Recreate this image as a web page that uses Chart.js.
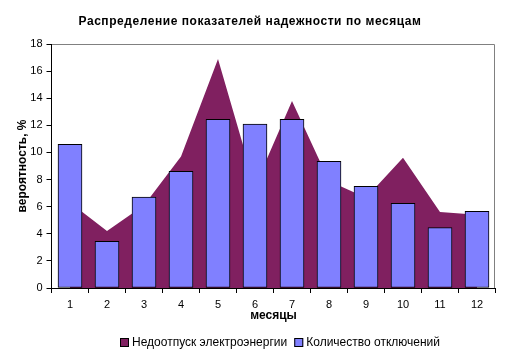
<!DOCTYPE html>
<html>
<head>
<meta charset="utf-8">
<script src="https://cdn.jsdelivr.net/npm/chart.js@4/dist/chart.umd.min.js"></script>
<style>
  body { margin: 0; background: #fff; }
  #wrap { width: 513px; height: 359px; }
</style>
</head>
<body>
<div id="wrap"><canvas id="chart" width="513" height="359"></canvas></div>
<script>
// data
const months = ["1", "2", "3", "4", "5", "6", "7", "8", "9", "10", "11", "12"];
const undersupply = [6.3, 4.2, 6.1, 9.7, 16.9, 7.5, 13.8, 7.9, 6.65, 9.6, 5.6, 5.4];
const outages = [10.6, 3.45, 6.7, 8.6, 12.45, 12.1, 12.45, 9.35, 7.5, 6.25, 4.45, 5.65];
const yMin = 0, yMax = 18, yStep = 2;

const chartTitle = "Распределение показателей надежности по месяцам";
const fontFamily = "'Liberation Sans', Arial, sans-serif";

// title, legend and the grey frame of the plot area
const decorPlugin = {
    id: "decor",
    beforeDatasetsDraw(chart) {
        const a = chart.chartArea;
        const ctx = chart.ctx;
        ctx.save();
        ctx.strokeStyle = "#808080";
        ctx.lineWidth = 1;
        ctx.beginPath();
        ctx.moveTo(Math.round(a.left), 44.5);
        ctx.lineTo(494.5, 44.5);
        ctx.lineTo(494.5, Math.round(a.bottom));
        ctx.stroke();
        ctx.restore();
    },
    afterDraw(chart) {
        const ctx = chart.ctx;
        ctx.save();
        ctx.fillStyle = "#000";
        ctx.font = "bold 12px " + fontFamily;
        ctx.letterSpacing = "0.55px";
        ctx.textAlign = "center";
        ctx.textBaseline = "middle";
        ctx.fillText(chartTitle, 250, 22);
        ctx.letterSpacing = "0px";

        // legend
        ctx.font = "12px " + fontFamily;
        ctx.textAlign = "left";
        const items = chart.data.datasets.map(ds => ({ text: ds.label, color: ds.backgroundColor }));
        const box = 9, gapText = 3, gapItem = 7;
        let total = 0;
        items.forEach((it, i) => {
            it.w = ctx.measureText(it.text).width;
            total += box + gapText + it.w + (i < items.length - 1 ? gapItem : 0);
        });
        let x = Math.round(280.5 - total / 2);
        const y = 342.5;
        items.forEach(it => {
            ctx.fillStyle = it.color;
            ctx.fillRect(x, y - box / 2, box, box);
            ctx.strokeStyle = "#000";
            ctx.lineWidth = 1;
            ctx.strokeRect(x + 0.5, y - box / 2 + 0.5, box - 1, box - 1);
            ctx.fillStyle = "#000";
            ctx.fillText(it.text, x + box + gapText, y);
            x += box + gapText + it.w + gapItem;
        });
        ctx.restore();
    }
};

new Chart(document.getElementById("chart"), {
    data: {
        labels: months,
        datasets: [
            {
                type: "line",
                label: "Недоотпуск электроэнергии",
                data: undersupply,
                backgroundColor: "#802060",
                borderColor: "rgba(0,0,0,0)",
                borderWidth: 0,
                pointRadius: 0,
                tension: 0,
                fill: "origin",
                order: 1
            },
            {
                type: "bar",
                label: "Количество отключений",
                data: outages,
                backgroundColor: "#8080FF",
                borderColor: "#000",
                borderWidth: 1,
                borderSkipped: false,
                barThickness: 24,
                order: 0
            }
        ]
    },
    options: {
        responsive: false,
        animation: false,
        layout: { padding: { top: 44, right: 17.5, bottom: 30, left: 0 } },
        plugins: {
            legend: { display: false },
            title: { display: false },
            tooltip: { enabled: false }
        },
        scales: {
            x: {
                type: "category",
                offset: true,
                afterFit: function(scale) { scale.height = 41; },
                grid: { offset: true, drawOnChartArea: false, tickLength: 5, color: "#000" },
                border: { color: "#000" },
                ticks: { color: "#000", padding: 5, font: { family: fontFamily, size: 11 }, maxRotation: 0 },
                title: {
                    display: true,
                    text: "месяцы",
                    color: "#000",
                    font: { family: fontFamily, size: 12, weight: "bold" },
                    padding: { top: 0, bottom: 6 }
                }
            },
            y: {
                min: yMin,
                max: yMax,
                afterFit: function(scale) { scale.width = 51.5; },
                grid: { drawOnChartArea: false, tickLength: 5, color: "#000" },
                border: { color: "#000" },
                ticks: { stepSize: yStep, color: "#000", padding: 4, font: { family: fontFamily, size: 11 } },
                title: {
                    display: true,
                    text: "вероятность, %",
                    color: "#000",
                    font: { family: fontFamily, size: 12, weight: "bold" },
                    padding: { top: 15, bottom: 0 }
                }
            }
        }
    },
    plugins: [decorPlugin]
});
</script>
</body>
</html>
